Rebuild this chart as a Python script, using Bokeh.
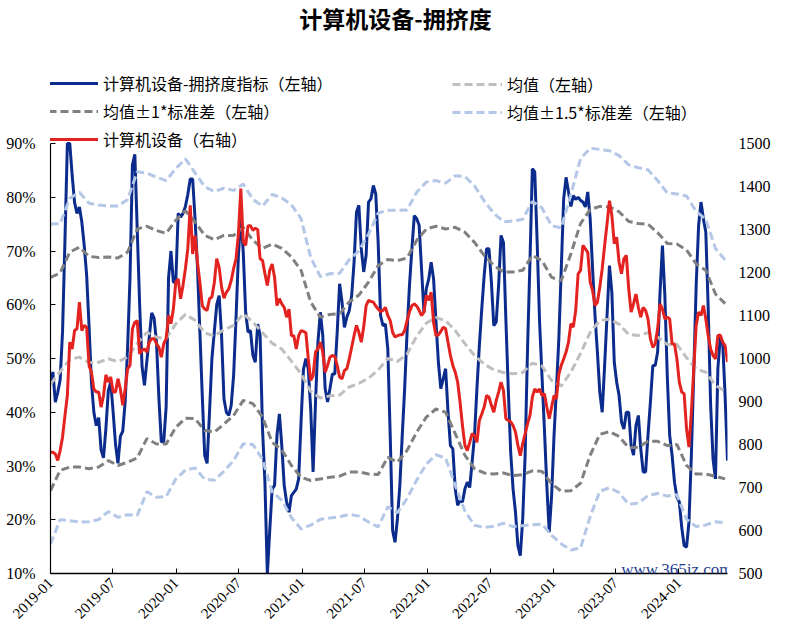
import math
import numpy as np
import pandas as pd
from bokeh.plotting import figure
from bokeh.models import (Range1d, LinearAxis, FixedTicker, DatetimeTickFormatter,
                          NumeralTickFormatter, Legend, LegendItem, Label)
from bokeh.embed import file_html
from bokeh.resources import INLINE

# ---------------- data ----------------
title_text = "计算机设备-拥挤度"
start_date = "2019-01-01"          # first weekly observation

# weekly crowding indicator, % (left axis)
crowding_pct = [
    45.3, 47.5, 41.9, 43.7, 46, 55, 72, 93, 95, 84, 79, 77, 78.2, 75.4, 71, 65.5, 56, 45.5, 40, 37.5,
    39, 33, 31.5, 37, 44, 45.6, 40, 34, 30.5, 35.5, 36.5, 42, 52, 65, 86, 88, 74, 60, 48.5, 45,
    49.5, 54, 58.5, 57.5, 53, 42.5, 34.5, 34.5, 41, 65, 70, 64.2, 64.2, 77, 76.3, 77, 78.3, 80.5, 83.4, 83.4,
    76, 67, 55, 43, 32, 30.5, 40, 50, 55, 60,
    61.7, 54.3, 42.5, 40, 39.4, 41.3, 46.8, 57.4, 69.2, 76.6, 69.8, 58.6, 54.9, 55.2, 50.6, 49.3, 56.4, 54.3, 36.9, 27,
    9.8, 18, 25.7, 26.4, 35.7, 39.7, 33.8, 26.4, 23.3, 21.4, 24.5, 25.1, 25.7, 27.6, 38.2, 48, 50, 48, 40.6, 28.9,
    41.9, 53, 58.6, 54.3, 44.4, 41.9, 44.4, 47.1, 47.1, 54.9, 63.9, 60.5, 55.8, 57.7, 58.9, 61.7, 67.9, 77.2, 78.5, 70.4,
    66.1, 69.2, 79.1, 79.7, 82.2, 80.6, 71.6, 58, 56.1, 56.4, 51.8, 35.7, 18,
    15.8, 20.2, 26.4, 35.7, 44.4, 54.9, 63.6, 70.4, 76.6, 76, 74.8, 66.7, 58.6, 63, 64.8, 67.9, 64.8,
    56.8, 49.3, 44.4, 46.2, 48.1, 40, 33.8, 33.2, 25.7, 22.7, 23.6, 23.3, 25.7, 27, 26, 30.7, 35.7, 44.4, 52.4,
    59.2, 65.4, 70.4, 70.4, 64.2, 56.1, 56.8, 63.6, 72.9, 71.6, 57.4, 44.4, 32.6, 25.7, 21.4, 15.2, 13.3, 20.2, 32, 51.8,
    67.9, 85.3, 84.7, 71.6, 56.8, 46.8, 36.9, 26.4, 17.7, 24.5, 35.7, 44.4, 53.7, 66.7, 79.7, 83.7,
    81, 78.3, 80.3, 79.6, 80, 79.4, 79.1, 78.2, 81, 76, 66.7, 58, 51.2, 43.7, 40, 48.7, 58, 67.3, 62.3, 49.3,
    45.6, 43.1, 38.2, 36.9, 40, 40, 33.8, 32, 37.5, 39.4, 33.2, 28.9, 28.9, 35.7, 41.9, 48.7, 48.7, 51.2, 62.3, 71,
    61.7, 46.8, 35.7, 32, 27, 24.2, 23.3, 18.6, 15.2, 14.9, 19.5, 32, 47.5, 63.6, 74.7, 79.1, 76, 73.5, 59.2, 41.3,
    31.3, 27.6, 48.1, 54, 53, 43.1, 31,
]

# weekly computer-equipment index (right axis)
index_close = [
    782, 782, 778, 763, 786, 817, 867, 914, 1038, 1022, 1065, 1069, 1131, 1065, 1077, 1073, 984, 968, 929, 922,
    922, 887, 914, 962, 945, 957, 922, 922, 953, 929, 891, 929, 976, 984, 1069, 1084, 1088, 1011, 1019, 1022,
    1015, 1038, 1046, 1046, 1034, 1026, 1003, 1034, 1046, 1100, 1081, 1115, 1177, 1185, 1139, 1170, 1209, 1256, 1356, 1243,
    1286, 1224, 1177, 1123, 1115, 1112, 1139, 1143, 1177, 1232,
    1212, 1166, 1140, 1154, 1162, 1181, 1209, 1232, 1290, 1395, 1271, 1263, 1309, 1309, 1298, 1303, 1300, 1232, 1228, 1197,
    1170, 1205, 1220, 1189, 1123, 1139, 1127, 1119, 1096, 1115, 1053, 1053, 1022, 1053, 1065, 1063, 1060, 999, 949, 960,
    1015, 1022, 1038, 1015, 968, 984, 1003, 1007, 1005, 984, 957, 953, 972, 976, 999, 1026, 1053, 1077, 1061, 1038,
    1073, 1123, 1135, 1133, 1131, 1122, 1115, 1109, 1112, 1119, 1100, 1088, 1061,
    1050, 1053, 1055, 1055, 1065, 1088, 1108, 1123, 1127, 1122, 1112, 1100, 1108, 1147, 1135, 1154, 1084,
    1053, 1055, 1063, 1073, 1069, 1038, 1007, 984, 968, 945, 898, 844, 798, 786, 805, 825, 821, 805, 856,
    871, 887, 914, 910, 891, 875, 902, 922, 945, 926, 860, 856, 853, 844, 829, 798, 774, 802, 825, 848,
    867, 910, 929, 922, 929, 914, 918, 887, 860, 887, 914, 906, 964, 984, 999, 1015,
    1038, 1081, 1073, 1112, 1197, 1205, 1263, 1255, 1247, 1178, 1158, 1123, 1131, 1166, 1209, 1263, 1313, 1367, 1333, 1267,
    1282, 1224, 1197, 1232, 1240, 1162, 1108, 1127, 1150, 1119, 1096, 1119, 1112, 1092, 1046, 1026, 1034, 1069, 1127, 1115,
    1092, 1096, 1092, 1034, 1034, 999, 945, 922, 918, 836, 794, 875, 976, 1077, 1108, 1100, 1123, 1092, 1053, 1022,
    1007, 999, 1053, 1055, 1038, 1030, 992,
]

# rolling mean and standard deviation of the indicator, %, every 4th week
mean_pct = [
    45.25, 47.55, 49.8, 50.25, 49.25, 49.3, 49.95, 49.4, 50.25, 52.8, 54.85, 53.95, 53.7, 56.45, 58.2, 57.1,
    54.75, 54.2, 55.35, 56.15, 58.3, 56.8, 54.8, 52.85, 51.75, 49.5, 47.15, 43.9, 42.65, 43.05, 43.2, 44.7,
    45.35, 46.35, 47.85, 50.0, 49.45, 50.8, 54.15, 56.6, 57.6, 57.05, 55.2, 52.75, 50.55, 48.95, 47.9, 47.4,
    47.15, 47.4, 49.15, 48.6, 45.9, 44.9, 47.45, 50.95, 54.85, 57.1, 57.3, 56.4, 54.45, 54.3, 54.8, 54.0,
    52.6, 52.65, 50.15, 48.05, 47.45, 45.05, 43.9,
]
std_pct = [
    19.85, 18.35, 20.0, 20.45, 19.75, 19.5, 18.95, 19.3, 19.55, 21.3, 19.75, 19.85, 19.6, 19.25, 19.3, 18.3,
    18.15, 17.9, 17.55, 16.75, 16.1, 15.2, 15.7, 18.45, 18.75, 19.4, 19.25, 16.6, 15.05, 15.15, 15.1, 15.8,
    16.45, 17.85, 19.45, 18.4, 18.75, 17.9, 17.85, 17.5, 17.0, 17.05, 19.2, 20.75, 21.05, 20.25, 19.4, 18.7,
    18.95, 19.0, 20.05, 19.6, 19.2, 19.6, 22.05, 24.15, 22.85, 21.2, 20.9, 20.9, 21.05, 20.8, 20.2, 19.4,
    18.8, 18.65, 20.05, 19.55, 18.95, 16.95, 16.3,
]

x_tick_labels = ["2019-01", "2019-07", "2020-01", "2020-07", "2021-01", "2021-07",
                 "2022-01", "2022-07", "2023-01", "2023-07", "2024-01"]
left_ticks_pct = [10, 20, 30, 40, 50, 60, 70, 80, 90]
right_ticks = [500, 600, 700, 800, 900, 1000, 1100, 1200, 1300, 1400, 1500]

legend_labels = ["计算机设备-拥挤度指标（左轴）", "均值（左轴）", "均值±1*标准差（左轴）",
                 "均值±1.5*标准差（左轴）", "计算机设备（右轴）"]
watermark_text = "www.365jz.com"

# ---------------- layout constants (pixels) ----------------
W, H = 773, 625
AX_LEFT, AX_RIGHT = 50, 735        # plotting area left / right edge
AX_TOP, AX_BOTTOM = 143, 573       # where the top / bottom ticks sit
# the frame runs from the canvas top to AX_BOTTOM so that the header lives inside it
frame_h = AX_BOTTOM

# ---------------- derived structures ----------------
dates = pd.date_range(start_date, periods=len(crowding_pct), freq="7D")
band_dates = dates[::4][:len(mean_pct)]
crowd = np.array(crowding_pct) / 100.0
mean = np.array(mean_pct) / 100.0
std = np.array(std_pct) / 100.0

y_lo, y_hi = left_ticks_pct[0] / 100, left_ticks_pct[-1] / 100
y_top = y_lo + (y_hi - y_lo) * frame_h / (AX_BOTTOM - AX_TOP)
r_lo, r_hi = right_ticks[0], right_ticks[-1]
r_top = r_lo + (r_hi - r_lo) * frame_h / (AX_BOTTOM - AX_TOP)

NAVY = "#0B2C8C"
RED = "#E3231F"
LGRAY = "#BFBFBF"
DGRAY = "#808080"
LBLUE = "#B4C7E7"
SERIF = "Liberation Serif"
CJK = "Noto Sans CJK SC"

p = figure(width=W, height=H, x_axis_type="datetime", output_backend="svg",
           toolbar_location=None, title=None,
           x_range=Range1d(dates[0], dates[-1]),
           y_range=Range1d(y_lo, y_top),
           min_border_left=AX_LEFT, min_border_right=W - AX_RIGHT,
           min_border_top=0, min_border_bottom=H - AX_BOTTOM)
p.extra_y_ranges = {"right": Range1d(r_lo, r_top)}
p.outline_line_color = None
p.grid.visible = False
p.background_fill_color = "white"
p.border_fill_color = "white"

# x axis
xa = p.xaxis[0]
xa.ticker = FixedTicker(ticks=[pd.Timestamp(s + "-01").timestamp() * 1000 for s in x_tick_labels])
xa.formatter = DatetimeTickFormatter(days="%Y-%m", months="%Y-%m", years="%Y-%m")
xa.major_label_orientation = math.pi / 4
xa.major_label_text_font = SERIF
xa.major_label_text_font_size = "15px"
xa.major_label_text_color = "black"
xa.major_label_standoff = 7
xa.axis_line_color = "black"
xa.axis_line_width = 1.5
xa.major_tick_in = 5
xa.major_tick_out = 0
xa.major_tick_line_color = "black"
xa.minor_tick_line_color = None

# left axis
ya = p.yaxis[0]
ya.ticker = FixedTicker(ticks=[v / 100 for v in left_ticks_pct])
ya.formatter = NumeralTickFormatter(format="0%")
ya.bounds = (y_lo, y_hi)
ya.major_label_text_font = SERIF
ya.major_label_text_font_size = "16px"
ya.major_label_text_color = "black"
ya.major_label_standoff = 15
ya.axis_line_color = "black"
ya.axis_line_width = 1.2
ya.major_tick_in = 5
ya.major_tick_out = 0
ya.minor_tick_line_color = None

# right axis
ra = LinearAxis(y_range_name="right", ticker=FixedTicker(ticks=right_ticks), bounds=(r_lo, r_hi))
ra.major_label_text_font = SERIF
ra.major_label_text_font_size = "16px"
ra.major_label_text_color = "black"
ra.major_label_standoff = 5
ra.axis_line_color = None
ra.major_tick_line_color = None
ra.minor_tick_line_color = None
p.add_layout(ra, "right")

# series (the indicator is shown clipped at the top of the axis, as in the source chart)
dash = "8 4"
r_blue = p.line(dates, np.minimum(crowd, y_hi), line_color=NAVY, line_width=3)
r_mean = p.line(band_dates, mean, line_color=LGRAY, line_width=3, line_dash=dash)
r_up1 = p.line(band_dates, mean + std, line_color=DGRAY, line_width=3, line_dash=dash)
r_lo1 = p.line(band_dates, mean - std, line_color=DGRAY, line_width=3, line_dash=dash)
r_up15 = p.line(band_dates, mean + 1.5 * std, line_color=LBLUE, line_width=3, line_dash=dash)
r_lo15 = p.line(band_dates, mean - 1.5 * std, line_color=LBLUE, line_width=3, line_dash=dash)
r_red = p.line(dates, index_close, line_color=RED, line_width=3, y_range_name="right")


def make_legend(items, loc):
    lg = Legend(items=items, location=loc, orientation="vertical")
    lg.label_text_font = CJK
    lg.label_text_font_size = "16px"
    lg.label_text_color = "black"
    lg.glyph_width = 50
    lg.glyph_height = 20
    lg.label_height = 20
    lg.label_standoff = 5
    lg.spacing = 4
    lg.padding = 0
    lg.margin = 0
    lg.border_line_color = None
    lg.background_fill_alpha = 0
    return lg


leg_a = make_legend([LegendItem(label=legend_labels[0], renderers=[r_blue]),
                     LegendItem(label=legend_labels[2], renderers=[r_up1]),
                     LegendItem(label=legend_labels[4], renderers=[r_red])],
                    (48 - AX_LEFT, AX_BOTTOM - 151))
leg_b = make_legend([LegendItem(label=legend_labels[1], renderers=[r_mean]),
                     LegendItem(label=legend_labels[3], renderers=[r_up15])],
                    (452 - AX_LEFT, AX_BOTTOM - 124))
p.add_layout(leg_a)
p.add_layout(leg_b)

title = Label(x=395 - AX_LEFT, y=AX_BOTTOM - 17, x_units="screen", y_units="screen", text=title_text,
              text_font=CJK, text_font_size="23px", text_font_style="bold",
              text_align="center", text_baseline="middle", text_color="black")
p.add_layout(title)

wm = Label(x=AX_RIGHT - 3 - AX_LEFT, y=4, x_units="screen", y_units="screen", text=watermark_text,
           text_font=SERIF, text_font_size="17px", text_align="right",
           text_baseline="alphabetic", text_color="#1F3F8F")
p.add_layout(wm)

open("out.html", "w").write(file_html(p, INLINE))
